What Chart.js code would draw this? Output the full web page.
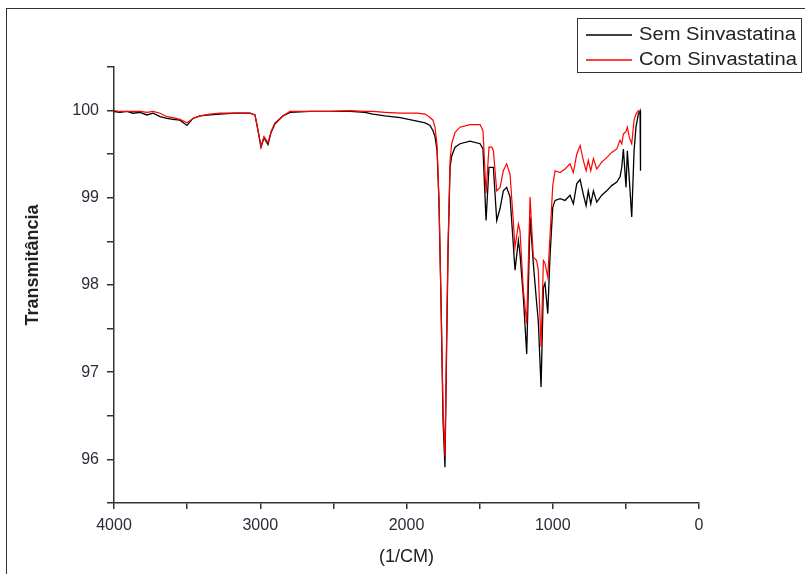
<!DOCTYPE html>
<html>
<head>
<meta charset="utf-8">
<title>Transmitância FTIR</title>
<script src="https://cdn.jsdelivr.net/npm/chart.js@4.4.0/dist/chart.umd.min.js"></script>
<style>
  html, body { margin: 0; padding: 0; background: #fff; }
  canvas { display: block; }
</style>
</head>
<body>
<canvas id="ftirChart" width="805" height="574"></canvas>
<script>
// numero de onda (1/cm)
const wavenumbers = [
    4000, 3959, 3911, 3870, 3822, 3774, 3733, 3685, 3638, 3597,
    3549, 3501, 3460, 3412, 3344, 3275, 3173, 3070, 3036, 3015,
    2995, 2974, 2947, 2926, 2899, 2844, 2796, 2660, 2523, 2386,
    2284, 2229, 2147, 2044, 1928, 1873, 1839, 1819, 1805, 1791,
    1778, 1764, 1750, 1737, 1726, 1716, 1702, 1691, 1668, 1634,
    1566, 1497, 1477, 1456, 1436, 1417, 1406, 1383, 1360, 1338,
    1315, 1292, 1270, 1258, 1235, 1224, 1201, 1178, 1155, 1133,
    1110, 1099, 1080, 1064, 1053, 1034, 1019, 1000, 984, 950,
    916, 882, 859, 836, 813, 791, 772, 757, 740, 722,
    699, 665, 631, 597, 562, 540, 528, 517, 499, 490,
    476, 460, 444, 431, 415, 403, 400
];

// Sem Sinvastatina (preto)
const semSinvastatina = [
    99.99, 99.98, 99.99, 99.97, 99.98, 99.95, 99.97, 99.93, 99.91, 99.90,
    99.89, 99.83, 99.91, 99.94, 99.95, 99.96, 99.97, 99.97, 99.95, 99.77,
    99.58, 99.69, 99.61, 99.75, 99.85, 99.94, 99.98, 99.99, 99.99, 99.99,
    99.98, 99.96, 99.94, 99.92, 99.88, 99.86, 99.83, 99.77, 99.70, 99.54,
    98.97, 97.82, 96.44, 95.91, 97.25, 98.39, 99.35, 99.48, 99.58, 99.62,
    99.65, 99.62, 99.56, 98.74, 99.35, 99.35, 99.35, 98.74, 98.88, 99.08,
    99.12, 99.01, 98.47, 98.17, 98.51, 98.36, 97.86, 97.21, 98.78, 98.25,
    97.79, 97.59, 96.83, 97.97, 98.02, 97.67, 98.32, 98.89, 98.97, 98.99,
    98.97, 99.03, 98.93, 99.16, 99.21, 99.04, 98.91, 99.08, 98.93, 99.08,
    98.95, 99.03, 99.08, 99.14, 99.18, 99.24, 99.35, 99.56, 99.12, 99.54,
    99.20, 98.78, 99.54, 99.81, 99.96, 100.00, 99.31
];

// Com Sinvastatina (vermelho)
const comSinvastatina = [
    100.00, 99.99, 99.99, 99.99, 99.99, 99.98, 99.99, 99.97, 99.93, 99.92,
    99.90, 99.86, 99.91, 99.94, 99.96, 99.97, 99.97, 99.97, 99.95, 99.77,
    99.59, 99.70, 99.63, 99.76, 99.86, 99.94, 99.99, 99.99, 99.99, 100.00,
    99.99, 99.99, 99.98, 99.97, 99.97, 99.96, 99.92, 99.89, 99.81, 99.60,
    98.97, 97.82, 96.56, 96.04, 97.36, 98.45, 99.43, 99.62, 99.75, 99.81,
    99.84, 99.84, 99.77, 99.05, 99.58, 99.58, 99.54, 99.08, 99.12, 99.31,
    99.39, 99.27, 98.74, 98.43, 98.70, 98.62, 97.94, 97.56, 99.01, 98.32,
    98.28, 98.17, 97.29, 98.28, 98.25, 98.09, 98.55, 99.14, 99.31, 99.29,
    99.33, 99.39, 99.29, 99.50, 99.60, 99.43, 99.31, 99.43, 99.31, 99.45,
    99.33, 99.41, 99.46, 99.52, 99.56, 99.66, 99.62, 99.73, 99.76, 99.81,
    99.69, 99.62, 99.89, 99.96, 100.00, 99.98, 99.98
];

const xTicks = [4000, 3000, 2000, 1000, 0];
const yTicks = [96, 97, 98, 99, 100];

const FONT = "'Liberation Sans', Arial, sans-serif";

function toPoints(values) {
    return wavenumbers.map((wn, i) => ({ x: wn, y: values[i] }));
}

// moldura, titulo do eixo y e legenda desenhados à mão
const framePlugin = {
    id: 'frame',
    beforeDraw(chart) {
        const ctx = chart.ctx;
        ctx.save();
        ctx.fillStyle = '#fff';
        ctx.fillRect(0, 0, chart.width, chart.height);
        ctx.strokeStyle = '#333';
        ctx.lineWidth = 1;
        ctx.strokeRect(6.5, 8.5, 900, 700);
        ctx.restore();
    },
    afterDraw(chart) {
        const ctx = chart.ctx;
        ctx.save();
        // titulo do eixo y
        ctx.translate(33, 265);
        ctx.rotate(-Math.PI / 2);
        ctx.font = 'bold 18px ' + FONT;
        ctx.fillStyle = '#222';
        ctx.textAlign = 'center';
        ctx.textBaseline = 'middle';
        ctx.fillText('Transmitância', 0, 0);
        ctx.restore();

        const items = [
            { text: 'Sem Sinvastatina', color: '#000000', y: 35 },
            { text: 'Com Sinvastatina', color: '#ff0000', y: 60 }
        ];
        ctx.save();
        ctx.fillStyle = '#fff';
        ctx.fillRect(577.5, 18.5, 224, 54);
        ctx.strokeStyle = '#333';
        ctx.lineWidth = 1;
        ctx.strokeRect(577.5, 18.5, 224, 54);
        items.forEach(it => {
            ctx.strokeStyle = it.color;
            ctx.lineWidth = 1.3;
            ctx.beginPath();
            ctx.moveTo(586, it.y);
            ctx.lineTo(632, it.y);
            ctx.stroke();
            ctx.save();
            ctx.translate(639, it.y);
            ctx.scale(1.12, 1);
            ctx.font = '18px ' + FONT;
            ctx.textBaseline = 'middle';
            ctx.fillStyle = '#222';
            ctx.fillText(it.text, 0, 0);
            ctx.restore();
        });
        ctx.restore();
    }
};

const ctx = document.getElementById('ftirChart').getContext('2d');
new Chart(ctx, {
    type: 'line',
    data: {
        datasets: [{
            label: 'Sem Sinvastatina',
            data: toPoints(semSinvastatina),
            borderColor: '#000000',
            borderWidth: 1.3,
            pointRadius: 0,
            tension: 0,
            order: 2
        }, {
            label: 'Com Sinvastatina',
            data: toPoints(comSinvastatina),
            borderColor: '#ff0000',
            borderWidth: 1.2,
            pointRadius: 0,
            tension: 0,
            order: 1
        }]
    },
    options: {
        responsive: false,
        animation: false,
        devicePixelRatio: 1,
        layout: {
            padding: { top: 67, right: 106, bottom: 0, left: 0 }
        },
        plugins: {
            legend: { display: false },
            tooltip: { enabled: false }
        },
        scales: {
            x: {
                type: 'linear',
                reverse: true,
                min: 0,
                max: 4000,
                afterFit(scale) { scale.height = 71; },
                afterBuildTicks(scale) {
                    scale.ticks = [];
                    for (let v = 4000; v >= 0; v -= 500) scale.ticks.push({ value: v });
                },
                ticks: {
                    autoSkip: false,
                    maxRotation: 0,
                    padding: 7,
                    color: '#2b2b38',
                    font: { family: FONT, size: 16 },
                    callback: v => xTicks.includes(v) ? String(v) : ''
                },
                grid: {
                    drawOnChartArea: false,
                    drawTicks: true,
                    tickLength: 6,
                    color: '#333',
                    lineWidth: 1.5
                },
                border: { display: true, color: '#333', width: 1.5 },
                title: {
                    display: true,
                    text: '(1/CM)',
                    color: '#222',
                    font: { family: FONT, size: 18 },
                    padding: { top: 0, bottom: 6 }
                }
            },
            y: {
                min: 95.5,
                max: 100.5,
                afterFit(scale) { scale.width = 114; },
                afterBuildTicks(scale) {
                    scale.ticks = [];
                    for (let i = 0; i <= 10; i++) scale.ticks.push({ value: 95.5 + i * 0.5 });
                },
                ticks: {
                    autoSkip: false,
                    padding: 8,
                    color: '#2b2b38',
                    font: { family: FONT, size: 16 },
                    callback: v => yTicks.includes(v) ? String(v) : ''
                },
                grid: {
                    drawOnChartArea: false,
                    drawTicks: true,
                    tickLength: 7,
                    color: '#333',
                    lineWidth: 1.5
                },
                border: { display: true, color: '#333', width: 1.5 },
                title: { display: false }
            }
        }
    },
    plugins: [framePlugin]
});
</script>
</body>
</html>
